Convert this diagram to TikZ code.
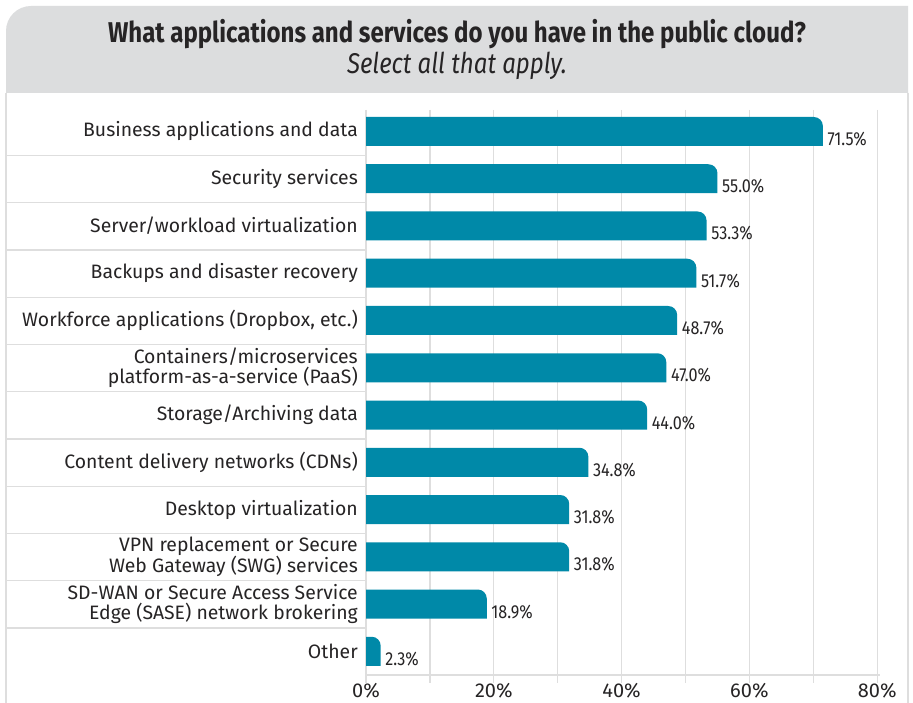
\documentclass[tikz,border=0pt]{standalone}
\usepackage{fontspec}
\setmainfont{Fira Sans}
\newfontfamily\condfont[FakeStretch=0.86]{Fira Sans}
\newfontfamily\titlefont[FakeStretch=0.84]{Fira Sans}
\definecolor{barcol}{HTML}{0089A8}
\definecolor{bandcol}{HTML}{DCDDDE}
\definecolor{gridcol}{HTML}{DEDEDE}
\definecolor{txtcol}{HTML}{262425}
\tikzset{
  gridln/.style={draw=gridcol, line width=1.3pt},
  cat/.style={font=\fontsize{19.4}{20.5}\selectfont, text=txtcol, align=right, inner sep=0pt, anchor=east},
  val/.style={font=\condfont\fontsize{18.8}{20}\selectfont, text=txtcol, inner sep=0pt, anchor=base west},
  axl/.style={font=\fontsize{20}{22}\selectfont, text=txtcol, inner sep=0pt},
}
\begin{document}
\begin{tikzpicture}[x=1pt,y=-1pt]
\useasboundingbox (0,0) rectangle (913,703);
\fill[white] (0,0) rectangle (913,703);
% title band
\fill[bandcol] (6,93) -- (6,31) arc[start angle=180, end angle=270, radius=25] -- (908,6) -- (908,93) -- cycle;
\draw[gridln] (6,93) -- (6,703);
\draw[gridln] (908,93) -- (908,703);
\node[font=\titlefont\bfseries\fontsize{28.6}{30}\selectfont, text=txtcol] (title) at (457,34) {What applications and services do you have in the public cloud?};
\node[font=\titlefont\itshape\fontsize{28.6}{30}\selectfont, text=txtcol] (subtitle) at (457,66) {Select all that apply.};
% grid
\foreach \k in {0,...,8}{
  \draw[gridln] (366+63.9*\k,110) -- (366+63.9*\k,683);
}
\draw[gridln] (366,675) -- (880,675);
\foreach \k in {0,...,10}{
  \draw[gridln] (6,155.5+47.25*\k) -- (366,155.5+47.25*\k);
}
\foreach \k/\t in {0/0,1/20,2/40,3/60,4/80}{
  \node[axl] (ax\k) at (366+127.8*\k,691) {\t\%};
}
% bars
\foreach \i/\txt/\v in {
  0/{Business applications and data}/71.5,
  1/{Security services}/55.0,
  2/{Server/workload virtualization}/53.3,
  3/{Backups and disaster recovery}/51.7,
  4/{Workforce applications (Dropbox, etc.)}/48.7,
  5/{Containers/microservices\\platform-as-a-service (PaaS)}/47.0,
  6/{Storage/Archiving data}/44.0,
  7/{Content delivery networks (CDNs)}/34.8,
  8/{Desktop virtualization}/31.8,
  9/{VPN replacement or Secure\\Web Gateway (SWG) services}/31.8,
  10/{SD-WAN or Secure Access Service\\Edge (SASE) network brokering}/18.9,
  11/{Other}/2.3}{
  \pgfmathsetmacro\yc{131.5+47.25*\i}
  \pgfmathsetmacro\xe{366+6.39*\v}
  \fill[barcol] (366,\yc+14.5) -- (366,\yc-14.5) -- (\xe-9,\yc-14.5) arc[start angle=-90, end angle=0, radius=9] -- (\xe,\yc+14.5) -- cycle;
  \node[cat] (c\i) at (358,\yc) {\txt};
  \node[val] (v\i) at (\xe+4.5,\yc+14) {\v\%};
}
\end{tikzpicture}
\end{document}
